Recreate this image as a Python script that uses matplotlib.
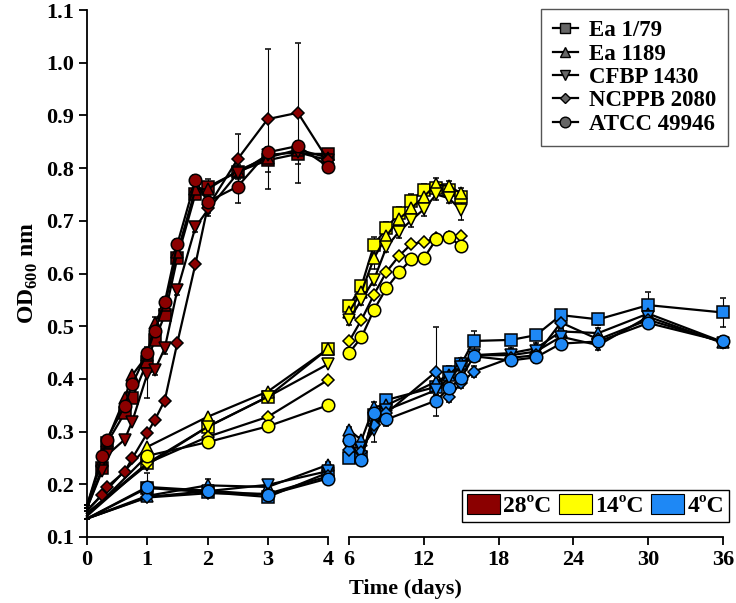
import matplotlib
matplotlib.use("Agg")
import matplotlib.pyplot as plt
from matplotlib.lines import Line2D
from matplotlib.patches import Patch

plt.rcParams['font.family'] = ['Liberation Serif', 'DejaVu Serif']
plt.rcParams['font.weight'] = 'bold'
plt.rcParams['mathtext.fontset'] = 'custom'
plt.rcParams['mathtext.rm'] = 'Liberation Serif:bold'
plt.rcParams['mathtext.bf'] = 'Liberation Serif:bold'

strains = ['Ea 1/79', 'Ea 1189', 'CFBP 1430', 'NCPPB 2080', 'ATCC 49946']
markers = ['s', '^', 'v', 'D', 'o']
msizes = [8, 8.5, 8.5, 6, 9]
temps = ['28ºC', '14ºC', '4ºC']
colors = ['#8b0000', '#ffff00', '#1e88f5']

# 28 C, first four days
t28 = [0, 0.25, 0.33, 0.625, 0.75, 1.0, 1.125, 1.29, 1.5, 1.8, 2.0, 2.5, 3.0, 3.5, 4.0]
od28 = [
    [0.155, 0.230, 0.278, 0.335, 0.363, 0.433, 0.474, 0.521, 0.630, 0.751, 0.764, 0.793, 0.815, 0.827, 0.827],
    [0.160, 0.245, 0.282, 0.363, 0.407, 0.445, 0.507, 0.540, 0.640, 0.760, 0.760, 0.795, 0.820, 0.835, 0.820],
    [0.155, 0.225, 0.255, 0.285, 0.319, 0.409, 0.417, 0.458, 0.569, 0.688, 0.720, 0.790, 0.825, 0.830, 0.815],
    [0.150, 0.180, 0.195, 0.224, 0.249, 0.297, 0.322, 0.359, 0.469, 0.618, 0.725, 0.817, 0.893, 0.905, 0.815],
    [0.160, 0.254, 0.285, 0.349, 0.390, 0.450, 0.491, 0.545, 0.656, 0.777, 0.736, 0.765, 0.830, 0.842, 0.803],
]
err28 = [
    [0, 0, 0, 0, 0, 0.01, 0.01, 0.01, 0.01, 0.01, 0.015, 0.01, 0.022, 0.02, 0.01],
    [0, 0, 0, 0, 0, 0.01, 0.01, 0.01, 0.01, 0.01, 0.01, 0.01, 0.01, 0.01, 0.01],
    [0, 0, 0, 0, 0, 0.045, 0.01, 0.01, 0.01, 0.01, 0.01, 0.01, 0.01, 0.01, 0.01],
    [0, 0, 0, 0, 0, 0, 0, 0, 0, 0, 0.01, 0.048, 0.133, 0.133, 0.01],
    [0, 0, 0, 0, 0, 0.01, 0.01, 0.01, 0.01, 0.01, 0.01, 0.031, 0.01, 0.01, 0.01],
]

# 14 C
t14a = [0, 1, 2, 3, 4]
od14a = [
    [0.145, 0.240, 0.309, 0.366, 0.457],
    [0.150, 0.271, 0.328, 0.376, 0.457],
    [0.145, 0.237, 0.309, 0.366, 0.428],
    [0.140, 0.240, 0.290, 0.328, 0.398],
    [0.140, 0.254, 0.280, 0.310, 0.350],
]
t14b = [6, 7, 8, 9, 10, 11, 12, 13, 14, 15]
od14b = [
    [0.538, 0.576, 0.654, 0.686, 0.714, 0.738, 0.758, 0.762, 0.758, 0.746],
    [0.527, 0.565, 0.629, 0.671, 0.703, 0.724, 0.746, 0.769, 0.766, 0.752],
    [0.512, 0.550, 0.588, 0.650, 0.679, 0.701, 0.722, 0.750, 0.743, 0.720],
    [0.471, 0.512, 0.560, 0.603, 0.633, 0.656, 0.660, 0.667, 0.669, 0.671],
    [0.449, 0.479, 0.531, 0.572, 0.602, 0.627, 0.629, 0.665, 0.669, 0.652],
]
err14b = [
    [0.01, 0.01, 0.015, 0.012, 0.012, 0.012, 0.012, 0.01, 0.01, 0.01],
    [0.01, 0.01, 0.02, 0.01, 0.01, 0.01, 0.01, 0.012, 0.01, 0.01],
    [0.01, 0.01, 0.01, 0.01, 0.012, 0.012, 0.012, 0.01, 0.01, 0.018],
    [0.005, 0.005, 0.005, 0.005, 0.005, 0.005, 0.005, 0.005, 0.005, 0.005],
    [0.01, 0.005, 0.005, 0.005, 0.005, 0.005, 0.005, 0.005, 0.01, 0.005],
]

# 4 C
t4a = [0, 1, 2, 3, 4]
od4a = [
    [0.135, 0.193, 0.185, 0.176, 0.222],
    [0.135, 0.178, 0.198, 0.195, 0.237],
    [0.135, 0.176, 0.187, 0.199, 0.225],
    [0.135, 0.175, 0.183, 0.182, 0.215],
    [0.135, 0.195, 0.188, 0.180, 0.211],
]
err4a = [
    [0, 0.005, 0.005, 0.005, 0.005],
    [0, 0.005, 0.012, 0.005, 0.005],
    [0, 0.005, 0.005, 0.005, 0.005],
    [0, 0.005, 0.005, 0.005, 0.005],
    [0, 0.026, 0.005, 0.005, 0.005],
]
t4b = [6, 7, 8, 9, 13, 14, 15, 16, 19, 21, 23, 26, 30, 36]
od4b = [
    [0.249, 0.252, 0.331, 0.360, 0.385, 0.414, 0.428, 0.472, 0.474, 0.483, 0.521, 0.513, 0.540, 0.526],
    [0.303, 0.284, 0.347, 0.350, 0.395, 0.407, 0.430, 0.445, 0.449, 0.458, 0.490, 0.487, 0.524, 0.470],
    [0.270, 0.269, 0.303, 0.341, 0.379, 0.401, 0.423, 0.445, 0.445, 0.452, 0.480, 0.464, 0.518, 0.468],
    [0.265, 0.262, 0.313, 0.335, 0.414, 0.366, 0.392, 0.414, 0.440, 0.445, 0.507, 0.475, 0.512, 0.470],
    [0.284, 0.246, 0.335, 0.323, 0.359, 0.382, 0.401, 0.443, 0.435, 0.441, 0.467, 0.471, 0.506, 0.471],
]
err4b = [
    [0.005, 0.005, 0.01, 0.01, 0.01, 0.01, 0.01, 0.018, 0.01, 0.01, 0.01, 0.01, 0.024, 0.028],
    [0.005, 0.005, 0.01, 0.01, 0.01, 0.01, 0.01, 0.01, 0.01, 0.01, 0.01, 0.01, 0.01, 0.01],
    [0.005, 0.01, 0.022, 0.01, 0.01, 0.01, 0.01, 0.01, 0.01, 0.01, 0.01, 0.01, 0.01, 0.01],
    [0.005, 0.005, 0.01, 0.01, 0.085, 0.01, 0.01, 0.01, 0.01, 0.01, 0.01, 0.01, 0.01, 0.01],
    [0.005, 0.005, 0.01, 0.012, 0.01, 0.01, 0.015, 0.01, 0.01, 0.01, 0.01, 0.01, 0.01, 0.01],
]


def draw_group(ax, t, ods, errs, color, skip_first=False):
    for k in range(len(strains)):
        e = errs[k] if errs is not None else None
        ax.errorbar(t, ods[k], yerr=e, color='black', lw=1.6,
                    marker=markers[k], ms=msizes[k], mfc=color, mec='black', mew=1.1,
                    ecolor='black', elinewidth=0.8, capsize=2.5, capthick=0.8,
                    markevery=slice(1, None) if skip_first else None,
                    clip_on=False, zorder=3)


fig = plt.figure(figsize=(7.36, 6.03), dpi=100)
H = 603.0
W = 736.0
y0, y1 = 537, 10
axL = fig.add_axes([87 / W, 1 - y0 / H, (328 - 87) / W, (y0 - y1) / H])
axR = fig.add_axes([349 / W, 1 - y0 / H, (723 - 349) / W, (y0 - y1) / H], sharey=axL)

draw_group(axL, t4a, od4a, err4a, colors[2], True)
draw_group(axL, t14a, od14a, None, colors[1], True)
draw_group(axL, t28, od28, err28, colors[0], True)
draw_group(axR, t4b, od4b, err4b, colors[2])
draw_group(axR, t14b, od14b, err14b, colors[1])

axL.set_xlim(0, 4)
axR.set_xlim(6, 36)
axL.set_ylim(0.1, 1.1)
axL.set_xticks([0, 1, 2, 3, 4])
axR.set_xticks([6, 12, 18, 24, 30, 36])
axL.set_yticks([0.1 * i for i in range(1, 12)])
axL.set_yticklabels(['%.1f' % (0.1 * i) for i in range(1, 12)])

for ax in (axL, axR):
    ax.spines['top'].set_visible(False)
    ax.spines['right'].set_visible(False)
    for s in ax.spines.values():
        s.set_linewidth(1.3)
    ax.tick_params(direction='out', length=6, width=1.3, labelsize=16)
    for lab in ax.get_xticklabels() + ax.get_yticklabels():
        lab.set_fontweight('bold')
axR.spines['left'].set_visible(False)
axR.tick_params(axis='y', left=False, labelleft=False)

axL.set_ylabel('OD$_{\\mathbf{600}}$ nm', fontsize=17, fontweight='bold', labelpad=4)
fig.text(405 / W, 1 - 589 / H, 'Time (days)', ha='center', va='center',
         fontsize=16, fontweight='bold')

# strain legend
h1 = [Line2D([0], [0], color='black', lw=1.6, marker=markers[k], ms=msizes[k] * 0.85,
             mfc='#666666', mec='black', mew=1.0) for k in range(len(strains))]
leg1 = fig.legend(h1, strains, loc='upper right', bbox_to_anchor=(728 / W, 1 - 9 / H),
                  prop={'family': 'Liberation Serif', 'weight': 'bold', 'size': 16.5},
                  frameon=True, fancybox=False, edgecolor='#555555', framealpha=1,
                  handlelength=1.1, handletextpad=0.5, labelspacing=0.1,
                  borderpad=0.5, borderaxespad=0)
leg1.get_frame().set_linewidth(1.0)

# temperature legend
h2 = [Patch(facecolor=c, edgecolor='black', lw=0.8) for c in colors]
leg2 = fig.legend(h2, temps, loc='lower left', bbox_to_anchor=(462 / W, 1 - 522 / H),
                  ncol=3, prop={'family': 'Liberation Serif', 'weight': 'bold', 'size': 17},
                  frameon=True, fancybox=False, edgecolor='black', framealpha=1,
                  handlelength=1.4, handleheight=0.9, handletextpad=0.15,
                  columnspacing=0.3, borderpad=0.2, borderaxespad=0)
leg2.get_frame().set_linewidth(1.0)

fig.savefig('out.png', dpi=100)
